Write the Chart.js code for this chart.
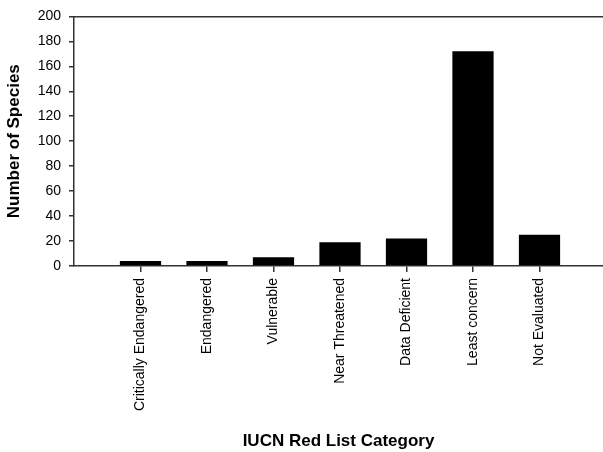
<!DOCTYPE html>
<html><head><meta charset="utf-8">
<script src="https://cdn.jsdelivr.net/npm/chart.js@4/dist/chart.umd.min.js"></script>
<style>html,body{margin:0;padding:0;background:#fff}</style>
</head><body>
<canvas id="c" width="603" height="452"></canvas>
<script>
const categories = ["Critically Endangered","Endangered","Vulnerable","Near Threatened","Data Deficient","Least concern","Not Evaluated"];
const speciesCounts = [4, 4, 7, 19, 22, 172, 25];
const yTickValues = [0, 20, 40, 60, 80, 100, 120, 140, 160, 180, 200];
const xTitle = "IUCN Red List Category";
const yTitle = "Number of Species";

const FAMILY = "'Liberation Sans', Arial, sans-serif";
const AXIS = '#333';

new Chart(document.getElementById('c'), {
  type: 'bar',
  data: {
    datasets: [{
      data: categories.map((c, i) => ({x: i + 1, y: speciesCounts[i]})),
      backgroundColor: '#000',
      borderWidth: 0,
      barPercentage: 0.62,
      categoryPercentage: 1
    }]
  },
  options: {
    responsive: false,
    animation: false,
    devicePixelRatio: 1,
    layout: {padding: {top: 14, right: 0, bottom: 0, left: 0}},
    plugins: {legend: {display: false}, tooltip: {enabled: false}},
    scales: {
      x: {
        type: 'linear',
        position: 'bottom',
        min: 0,
        max: 7.955,
        offset: false,
        grid: {drawOnChartArea: false, drawTicks: true, tickLength: 6, color: AXIS, lineWidth: 1.5, offset: false},
        border: {display: true, color: AXIS, width: 1.5},
        ticks: {
          font: {family: FAMILY, size: 14},
          color: '#000',
          minRotation: 90,
          maxRotation: 90,
          padding: 6,
          autoSkip: false,
          callback: (v) => categories[Math.round(v) - 1] ?? ''
        },
        afterBuildTicks: (s) => { s.ticks = categories.map((_, i) => ({value: i + 1})); },
        afterFit: (s) => { s.height = 186; },
        title: {display: true, text: xTitle, color: '#000', font: {family: FAMILY, size: 17, weight: 'bold'}, padding: {top: 0, bottom: 0}}
      },
      xTop: {
        type: 'linear',
        position: 'top',
        min: 0,
        max: 7.955,
        grid: {display: false},
        ticks: {display: false},
        border: {display: true, color: AXIS, width: 1.5},
        afterFit: (s) => { s.height = 0; }
      },
      y: {
        min: 0,
        max: 200,
        grid: {drawOnChartArea: false, drawTicks: true, tickLength: 5, color: AXIS, lineWidth: 1.5},
        border: {display: true, color: AXIS, width: 1.5},
        ticks: {font: {family: FAMILY, size: 14}, color: '#000', padding: 8},
        afterBuildTicks: (s) => { s.ticks = yTickValues.map(v => ({value: v})); },
        afterFit: (s) => { s.width = 74; },
        title: {display: true, text: yTitle, color: '#000', font: {family: FAMILY, size: 17, weight: 'bold'}, padding: {top: 4, bottom: 0}}
      }
    }
  }
});
</script>
</body></html>
